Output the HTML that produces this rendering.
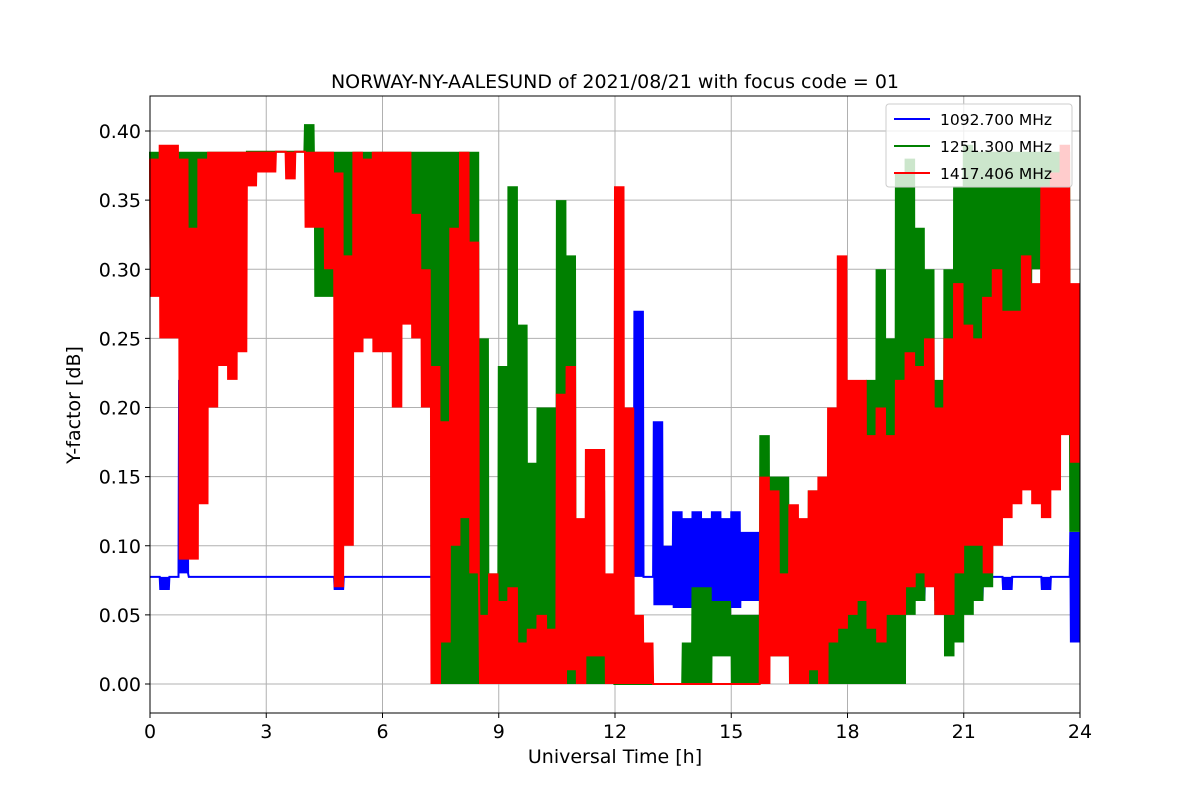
<!DOCTYPE html>
<html><head><meta charset="utf-8"><style>
body{margin:0;background:#fff;}
svg text{font-family:"DejaVu Sans","Liberation Sans",sans-serif;}
</style></head><body>
<svg id="chart" width="1200" height="800" viewBox="0 0 1200 800">
<rect x="0" y="0" width="1200" height="800" fill="#fff"/>
<g id="grid"></g>
<g id="plot"></g>
<rect x="150" y="96" width="930" height="617" fill="none" stroke="#000" stroke-width="1"/>
<g id="xt"></g>
<g id="yt"></g>
<text x="615" y="88" font-size="19" text-anchor="middle">NORWAY-NY-AALESUND of 2021/08/21 with focus code = 01</text>
<text x="615" y="763" font-size="19" text-anchor="middle">Universal Time [h]</text>
<text transform="translate(80,405) rotate(-90)" font-size="19" text-anchor="middle">Y-factor [dB]</text>
<g>
<rect x="886" y="104" width="186" height="83" rx="3" fill="#fff" fill-opacity="0.8" stroke="#ccc"/>
<g><line x1="894" y1="119" x2="930" y2="119" stroke="#0000ff" stroke-width="2"/><text x="940" y="125" font-size="15.5">1092.700 MHz</text></g>
<g><line x1="894" y1="146" x2="930" y2="146" stroke="#008000" stroke-width="2"/><text x="940" y="152" font-size="15.5">1251.300 MHz</text></g>
<g><line x1="894" y1="173" x2="930" y2="173" stroke="#ff0000" stroke-width="2"/><text x="940" y="179" font-size="15.5">1417.406 MHz</text></g>
</g>
</svg>
<script>
const xTicks=[0,3,6,9,12,15,18,21,24];
const yTicks=[0,0.05,0.10,0.15,0.20,0.25,0.30,0.35,0.40];
const yTickLabels=["0.00","0.05","0.10","0.15","0.20","0.25","0.30","0.35","0.40"];
const binWidth=0.25;
const redLo=[0.28,0.25,0.25,0.09,0.09,0.13,0.20,0.23,0.22,0.24,0.36,0.37,0.37,0.385,0.365,0.385,0.33,0.33,0.30,0.07,0.10,0.24,0.25,0.24,0.24,0.20,0.26,0.25,0.20,0.0,0.03,0.10,0.12,0.08,0.0,0.0,0.0,0.0,0.0,0.0,0.0,0.0,0.0,0.01,0.0,0.02,0.02,0.0,0.0,0.0,0.0,0.0,0,0,0,0,0,0,0,0,0,0,0,0,0.02,0.02,0.0,0.0,0.01,0.0,0.03,0.04,0.05,0.06,0.04,0.03,0.05,0.05,0.07,0.08,0.07,0.05,0.05,0.08,0.10,0.10,0.08,0.10,0.12,0.13,0.14,0.13,0.12,0.14,0.18,0.16,0.01];
const redHi=[0.38,0.39,0.39,0.38,0.33,0.38,0.385,0.385,0.385,0.385,0.385,0.385,0.385,0.385,0.385,0.385,0.385,0.385,0.385,0.37,0.31,0.385,0.38,0.385,0.385,0.385,0.385,0.34,0.30,0.23,0.19,0.33,0.385,0.32,0.05,0.08,0.06,0.07,0.03,0.04,0.05,0.04,0.21,0.23,0.12,0.17,0.17,0.08,0.36,0.20,0.05,0.03,0,0,0,0,0,0,0,0,0,0,0,0.15,0.14,0.08,0.13,0.12,0.14,0.15,0.20,0.31,0.22,0.22,0.18,0.20,0.18,0.22,0.24,0.23,0.25,0.20,0.25,0.29,0.26,0.25,0.28,0.30,0.27,0.27,0.31,0.29,0.36,0.37,0.39,0.29];
const greenLo=[0.30,0.30,0.33,0.33,0.30,0.30,0.33,0.33,0.34,0.34,0.385,0.385,0.385,0.385,0.385,0.385,0.37,0.28,0.28,0.28,0.28,0.28,0.28,0.28,0.28,0.28,0.28,0.28,0.28,0.0,0.0,0.0,0.0,0.0,0.0,0.0,0.0,0.0,0.0,0.0,0.0,0.0,0.0,0.0,0.0,0.0,0.0,0.0,0,0,0,0,0,0,0,0,0,0,0.02,0.02,0,0,0,0.02,0.02,0.02,0,0,0,0,0,0,0,0,0,0,0,0,0.05,0.06,0.08,0.05,0.02,0.03,0.05,0.06,0.07,0.15,0.20,0.25,0.25,0.30,0.30,0.25,0.25,0.20,0.01];
const greenHi=[0.385,0.385,0.385,0.385,0.385,0.385,0.385,0.385,0.385,0.385,0.385,0.385,0.385,0.385,0.385,0.385,0.405,0.385,0.385,0.385,0.385,0.385,0.385,0.385,0.385,0.385,0.385,0.385,0.385,0.385,0.385,0.385,0.385,0.385,0.25,0.08,0.23,0.36,0.26,0.16,0.20,0.20,0.35,0.31,0.10,0.12,0.14,0.05,0,0,0,0,0,0,0,0.03,0.07,0.07,0.06,0.06,0.05,0.05,0.05,0.18,0.15,0.15,0.10,0.10,0.14,0.14,0.16,0.16,0.14,0.14,0.22,0.30,0.25,0.37,0.38,0.33,0.30,0.22,0.30,0.36,0.39,0.385,0.385,0.385,0.385,0.385,0.385,0.385,0.385,0.385,0.385,0.11];
const blueLo=[0.0775,0.068,0.0775,0.08,0.0775,0.0775,0.0775,0.0775,0.0775,0.0775,0.0775,0.0775,0.0775,0.0775,0.0775,0.0775,0.0775,0.0775,0.0775,0.068,0.0775,0.0775,0.0775,0.0775,0.0775,0.0775,0.0775,0.0775,0.0775,0.0775,0.0775,0.0775,0.0775,0.0775,0.0775,0.0775,0.0775,0.0775,0.0775,0.0775,0.0775,0.0775,0.0775,0.0775,0.0775,0.0775,0.0775,0.0775,0.0775,0.0775,0.0775,0.0775,0.057,0.057,0.055,0.055,0.055,0.06,0.06,0.055,0.055,0.06,0.06,0.05,0.05,0.06,0.06,0.04,0.04,0.04,0.0775,0.0775,0.0775,0.0775,0.0775,0.0775,0.06,0.06,0.0775,0.06,0.0775,0.06,0.0775,0.06,0.0775,0.06,0.0775,0.0775,0.068,0.0775,0.0775,0.0775,0.068,0.0775,0.0775,0.03];
const blueHi=[0.0775,0.0775,0.0775,0.22,0.0775,0.0775,0.0775,0.0775,0.0775,0.0775,0.0775,0.0775,0.0775,0.0775,0.0775,0.0775,0.0775,0.0775,0.0775,0.0775,0.0775,0.0775,0.0775,0.0775,0.0775,0.0775,0.0775,0.0775,0.0775,0.0775,0.0775,0.0775,0.0775,0.0775,0.0775,0.0775,0.0775,0.0775,0.0775,0.0775,0.0775,0.0775,0.0775,0.0775,0.0775,0.0775,0.0775,0.0775,0.0775,0.14,0.27,0.0775,0.19,0.10,0.125,0.12,0.125,0.12,0.125,0.12,0.125,0.11,0.11,0.11,0.11,0.11,0.11,0.10,0.10,0.10,0.0775,0.0775,0.0775,0.0775,0.0775,0.0775,0.0775,0.0775,0.0775,0.0775,0.0775,0.0775,0.0775,0.0775,0.0775,0.0775,0.0775,0.0775,0.0775,0.0775,0.0775,0.0775,0.0775,0.0775,0.0775,0.11];
const NS="http://www.w3.org/2000/svg";
const X0=150,X1=1080,Y0=684,PXU=1382.5;
function xs(t){return X0+(t/24)*(X1-X0);}
function ys(v){return Y0-v*PXU;}
const grid=document.getElementById('grid'),plot=document.getElementById('plot'),xt=document.getElementById('xt'),yt=document.getElementById('yt');
function mk(tag,attrs,parent){const e=document.createElementNS(NS,tag);for(const k in attrs)e.setAttribute(k,attrs[k]);parent.appendChild(e);return e;}
xTicks.forEach(function(t){
  const g=mk('line',{x1:xs(t),x2:xs(t),y1:96,y2:713,stroke:'#b0b0b0','stroke-width':1},grid);
  
  
  mk('line',{x1:xs(t),x2:xs(t),y1:713,y2:718,stroke:'#000'},xt);
  const tx=mk('text',{x:xs(t),y:738,'font-size':19,'text-anchor':'middle'},xt);
  tx.textContent=t;
  
  
});
yTicks.forEach(function(v,i){
  const g=mk('line',{x1:150,x2:1080,y1:ys(v),y2:ys(v),stroke:'#b0b0b0','stroke-width':1},grid);
  
  
  mk('line',{x1:145,x2:150,y1:ys(v),y2:ys(v),stroke:'#000'},yt);
  const tx=mk('text',{x:141,y:ys(v)+7,'font-size':19,'text-anchor':'end'},yt);
  tx.textContent=yTickLabels[i];
  
  
});
function series(lo,hi,color,name){
  let pts=[];const steps=16;
  for(let i=0;i<lo.length;i++){
    for(let k=0;k<steps;k++){
      const t=(i+k/steps)*binWidth;
      const v=(k%2===0)?hi[i]:lo[i];
      pts.push(xs(t).toFixed(1)+','+ys(v).toFixed(1));
    }
  }
  const p=mk('polyline',{points:pts.join(' '),fill:'none',stroke:color,'stroke-width':2,'stroke-linejoin':'miter'},plot);
  
  
}
series(blueLo,blueHi,'#0000ff','series-1092-mhz');
series(greenLo,greenHi,'#008000','series-1251-mhz');
series(redLo,redHi,'#ff0000','series-1417-mhz');
</script>
</body></html>
